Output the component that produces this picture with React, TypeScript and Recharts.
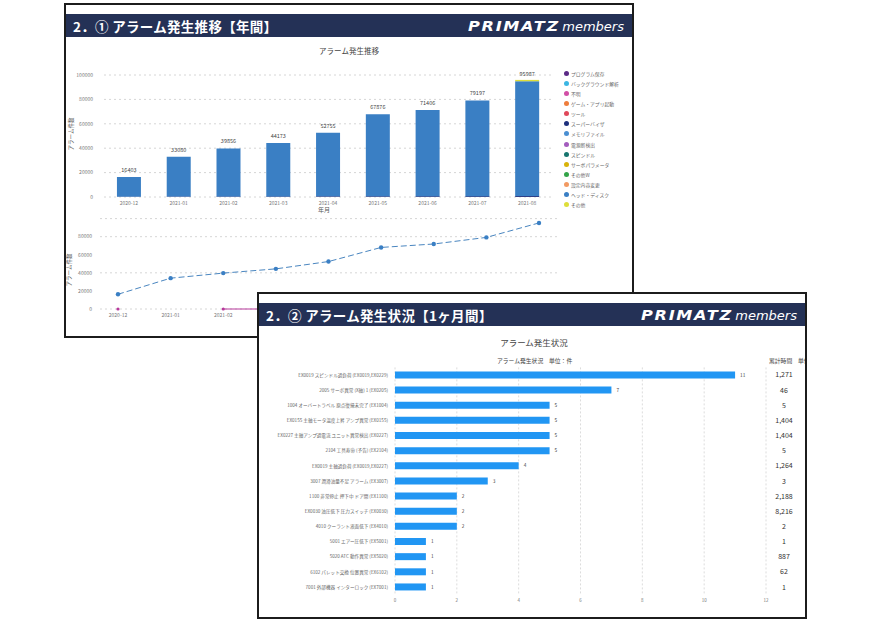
import { BarChart, Bar, XAxis, YAxis, CartesianGrid, LabelList, LineChart, Line } from "recharts"

// ① 年間推移
const months = ["2020-12", "2021-01", "2021-02", "2021-03", "2021-04", "2021-05", "2021-06", "2021-07", "2021-08"]
const totalCounts = [16403, 33080, 39856, 44173, 52755, 67876, 71406, 79197, 95987]
const supervisorCounts = [300, 400, 450, 500, 550, 600, 650, 700, 750]
const headDiskCounts = [16103, 32680, 39406, 43673, 52205, 67276, 70756, 78497, 94137]
const otherCounts = [0, 0, 0, 0, 0, 0, 0, 0, 1100]
const trendCounts = [16300, 34100, 39700, 44400, 52500, 68100, 71900, 79200, 95200]
const softCounts = [0, null, 0, 0, 0, 0, 0, 0, 0]

const legendNames = [
  "プログラム保存", "バックグラウンド解析", "不明", "ゲーム・アプリ起動", "ツール", "スーパーバイザ", "メモリファイル",
  "電源断検出", "スピンドル", "サーボパラメータ", "その他W", "設定内容変更", "ヘッド・ディスク", "その他",
]
const legendColors = [
  "#5b2a86", "#3bb6e3", "#d24fa6", "#ee7d3c", "#e0485a", "#1d2f7c", "#4a8fd2",
  "#a35cbd", "#17756e", "#d8b30a", "#33a448", "#f29a62", "#3a7fc4", "#dede3a",
]

// ② 1ヶ月間
const alarmNames = [
  "EX0019 スピンドル過負荷 (EX0019,EX0229)",
  "2005 サーボ異常 (X軸) 1 (EX0205)",
  "1004 オーバートラベル 原点復帰未完了 (EX1004)",
  "EX0155 主軸モータ温度上昇 アンプ異常 (EX0155)",
  "EX0227 主軸アンプ過電流 ユニット異常検出 (EX0227)",
  "2104 工具寿命 (予告) (EX2104)",
  "EX0019 主軸過負荷 (EX0019,EX0227)",
  "3007 潤滑油量不足 アラーム (EX3007)",
  "1100 非常停止 押下中 ドア開 (EX1100)",
  "EX0030 油圧低下 圧力スイッチ (EX0030)",
  "4010 クーラント液面低下 (EX4010)",
  "5001 エアー圧低下 (EX5001)",
  "5020 ATC 動作異常 (EX5020)",
  "6102 パレット交換 位置異常 (EX6102)",
  "7001 外部機器 インターロック (EX7001)",
]
const alarmCounts = [11, 7, 5, 5, 5, 5, 4, 3, 2, 2, 2, 1, 1, 1, 1]
const alarmMinutes = ["1,271", "46", "5", "1,404", "1,404", "5", "1,264", "3", "2,188", "8,216", "2", "1", "887", "62", "1"]
const countTicks = [0, 2, 4, 6, 8, 10, 12]

const FONT = "'Noto Sans CJK JP', 'Noto Sans', sans-serif"
const NAVY = "#243156"

function Header({ title }: { title: string }) {
  return (
    <div
      style={{
        position: "absolute", left: 0, right: 0, top: 9, height: 23, background: NAVY,
        color: "#fff", display: "flex", alignItems: "center", justifyContent: "space-between", padding: "0 8px 0 7px",
      }}
    >
      <span style={{ fontSize: 13.5, fontWeight: 700, letterSpacing: 0.3 }}>{title}</span>
      <span style={{ fontFamily: "'DejaVu Sans', sans-serif", fontStyle: "italic", whiteSpace: "nowrap" }}>
        <span style={{ fontSize: 14, fontWeight: 900, letterSpacing: 1.5, transform: "scaleX(1.15)", display: "inline-block" }}>PRIMATZ</span>
        <span style={{ fontSize: 13, marginLeft: 8 }}>members</span>
      </span>
    </div>
  )
}

export default function App() {
  const yearData = months.map((m, i) => ({
    month: m,
    supervisor: supervisorCounts[i],
    headDisk: headDiskCounts[i],
    other: otherCounts[i],
    total: totalCounts[i],
    trend: trendCounts[i],
    soft: softCounts[i],
  }))
  const monthData = alarmNames.map((n, i) => ({ name: n, count: alarmCounts[i] }))

  const tickStyle = { fontSize: 5, fill: "#777" }

  const AlarmTick = (p: any) => (
    <g>
      <text x={p.x} y={p.y} dy={1.7} textAnchor="end" fontSize={4.6} fill="#666">
        {p.payload.value}
      </text>
      <text x={784 - 258} y={p.y} dy={2.5} textAnchor="middle" fontSize={7} fill="#333">
        {alarmMinutes[p.payload.index]}
      </text>
    </g>
  )

  return (
    <div style={{ position: "absolute", left: 0, top: 0, width: 870, height: 620, background: "#fff", fontFamily: FONT, overflow: "hidden" }}>
      {/* panel 1 */}
      <div style={{ position: "absolute", left: 64, top: 3, width: 566, height: 331, border: "2px solid #1c1c1c", background: "#fff" }}>
        <Header title="2．① アラーム発生推移【年間】" />
        <div style={{ position: "absolute", left: 0, right: 0, top: 40, textAlign: "center", fontSize: 7.5, color: "#444" }}>アラーム発生推移</div>
      </div>

      <div style={{ position: "absolute", left: 60, top: 60 }}>
        <BarChart width={500} height={160} data={yearData} margin={{ top: 15, right: 8, bottom: 9, left: 0 }} barCategoryGap="26%">
          <CartesianGrid vertical={false} stroke="#d6d6d6" strokeDasharray="2 3" />
          <XAxis dataKey="month" tickLine={false} axisLine={false} tickSize={2} height={14} interval={0} tick={tickStyle} />
          <YAxis domain={[0, 100000]} ticks={[0, 20000, 40000, 60000, 80000, 100000]} width={44} tickLine={false} axisLine={false} tickMargin={5} tick={tickStyle} />
          <Bar dataKey="supervisor" stackId="a" fill="#1d2f7c" isAnimationActive={false} />
          <Bar dataKey="headDisk" stackId="a" fill="#3a7fc4" isAnimationActive={false}>
            <LabelList dataKey="total" position="top" offset={5} style={{ fontSize: 5.5, fill: "#444" }} />
          </Bar>
          <Bar dataKey="other" stackId="a" fill="#dede3a" isAnimationActive={false} />
        </BarChart>
      </div>
      <div style={{ position: "absolute", left: 318, top: 205, fontSize: 6, color: "#555" }}>年月</div>
      <div style={{ position: "absolute", left: 46, top: 130, width: 50, fontSize: 5.5, color: "#555", transform: "rotate(-90deg)", textAlign: "center" }}>アラーム件数</div>

      {/* legend */}
      <div style={{ position: "absolute", left: 564, top: 68 }}>
        {legendNames.map((name, i) => (
          <div key={name} style={{ display: "flex", alignItems: "center", height: 10.15, fontSize: 4.8, color: "#666", whiteSpace: "nowrap" }}>
            <span style={{ width: 5, height: 5, borderRadius: "50%", background: legendColors[i], marginRight: 2 }} />
            {name}
          </div>
        ))}
      </div>

      {/* trend line */}
      <div style={{ position: "absolute", left: 60, top: 210 }}>
        <LineChart width={505} height={120} data={yearData} margin={{ top: 8.6, right: 8, bottom: 7, left: 0 }}>
          <CartesianGrid vertical={false} stroke="#d6d6d6" strokeDasharray="2 3" />
          <XAxis dataKey="month" tickLine={false} axisLine={false} tickSize={2} height={14} interval={0} padding={{ left: 18, right: 18 }} tick={tickStyle} />
          <YAxis domain={[0, 100000]} ticks={[0, 20000, 40000, 60000, 80000]} width={40} tickLine={false} axisLine={false} tickMargin={2} tick={tickStyle} />
          <Line dataKey="soft" stroke="#b7389b" strokeWidth={1} dot={{ r: 1.6, fill: "#b7389b", stroke: "none" }} isAnimationActive={false} />
          <Line dataKey="trend" stroke="#4a86c0" strokeWidth={1} strokeDasharray="6 3" dot={{ r: 2.2, fill: "#3a7fc4", stroke: "none" }} isAnimationActive={false} />
        </LineChart>
      </div>
      <div style={{ position: "absolute", left: 44, top: 266, width: 50, fontSize: 5.5, color: "#555", transform: "rotate(-90deg)", textAlign: "center" }}>アラーム件数</div>

      {/* panel 2 */}
      <div style={{ position: "absolute", left: 257, top: 292, width: 546, height: 323, border: "2px solid #1c1c1c", background: "#fff", overflow: "hidden" }}>
        <Header title="2．② アラーム発生状況【1ヶ月間】" />
        <div style={{ position: "absolute", left: 0, right: 0, top: 42, textAlign: "center", fontSize: 8.5, color: "#444", paddingLeft: 4 }}>アラーム発生状況</div>
        <div style={{ position: "absolute", left: 238, top: 62, fontSize: 5.8, color: "#444" }}>アラーム発生状況　単位：件</div>
        <div style={{ position: "absolute", left: 510, top: 62, fontSize: 5.8, color: "#444", whiteSpace: "nowrap" }}>累計時間　単位：分</div>
      </div>

      <div style={{ position: "absolute", left: 258, top: 360 }}>
        <BarChart width={544} height={250} data={monthData} layout="vertical" margin={{ top: 7.4, right: 36, bottom: 3.4, left: 0 }}>
          <CartesianGrid horizontal={false} stroke="#dcdcdc" strokeDasharray="2 2" />
          <XAxis type="number" domain={[0, 12]} ticks={countTicks} tickLine={false} axisLine={false} tickSize={2} height={12} tick={{ fontSize: 4.5, fill: "#777" }} />
          <YAxis type="category" dataKey="name" width={137} tickLine={false} axisLine={false} tickSize={6} tickMargin={1} interval={0} tick={AlarmTick} />
          <Bar dataKey="count" fill="#2196f3" barSize={7} isAnimationActive={false}>
            <LabelList dataKey="count" position="right" offset={5} style={{ fontSize: 4.8, fill: "#444" }} />
          </Bar>
        </BarChart>
      </div>
    </div>
  )
}
